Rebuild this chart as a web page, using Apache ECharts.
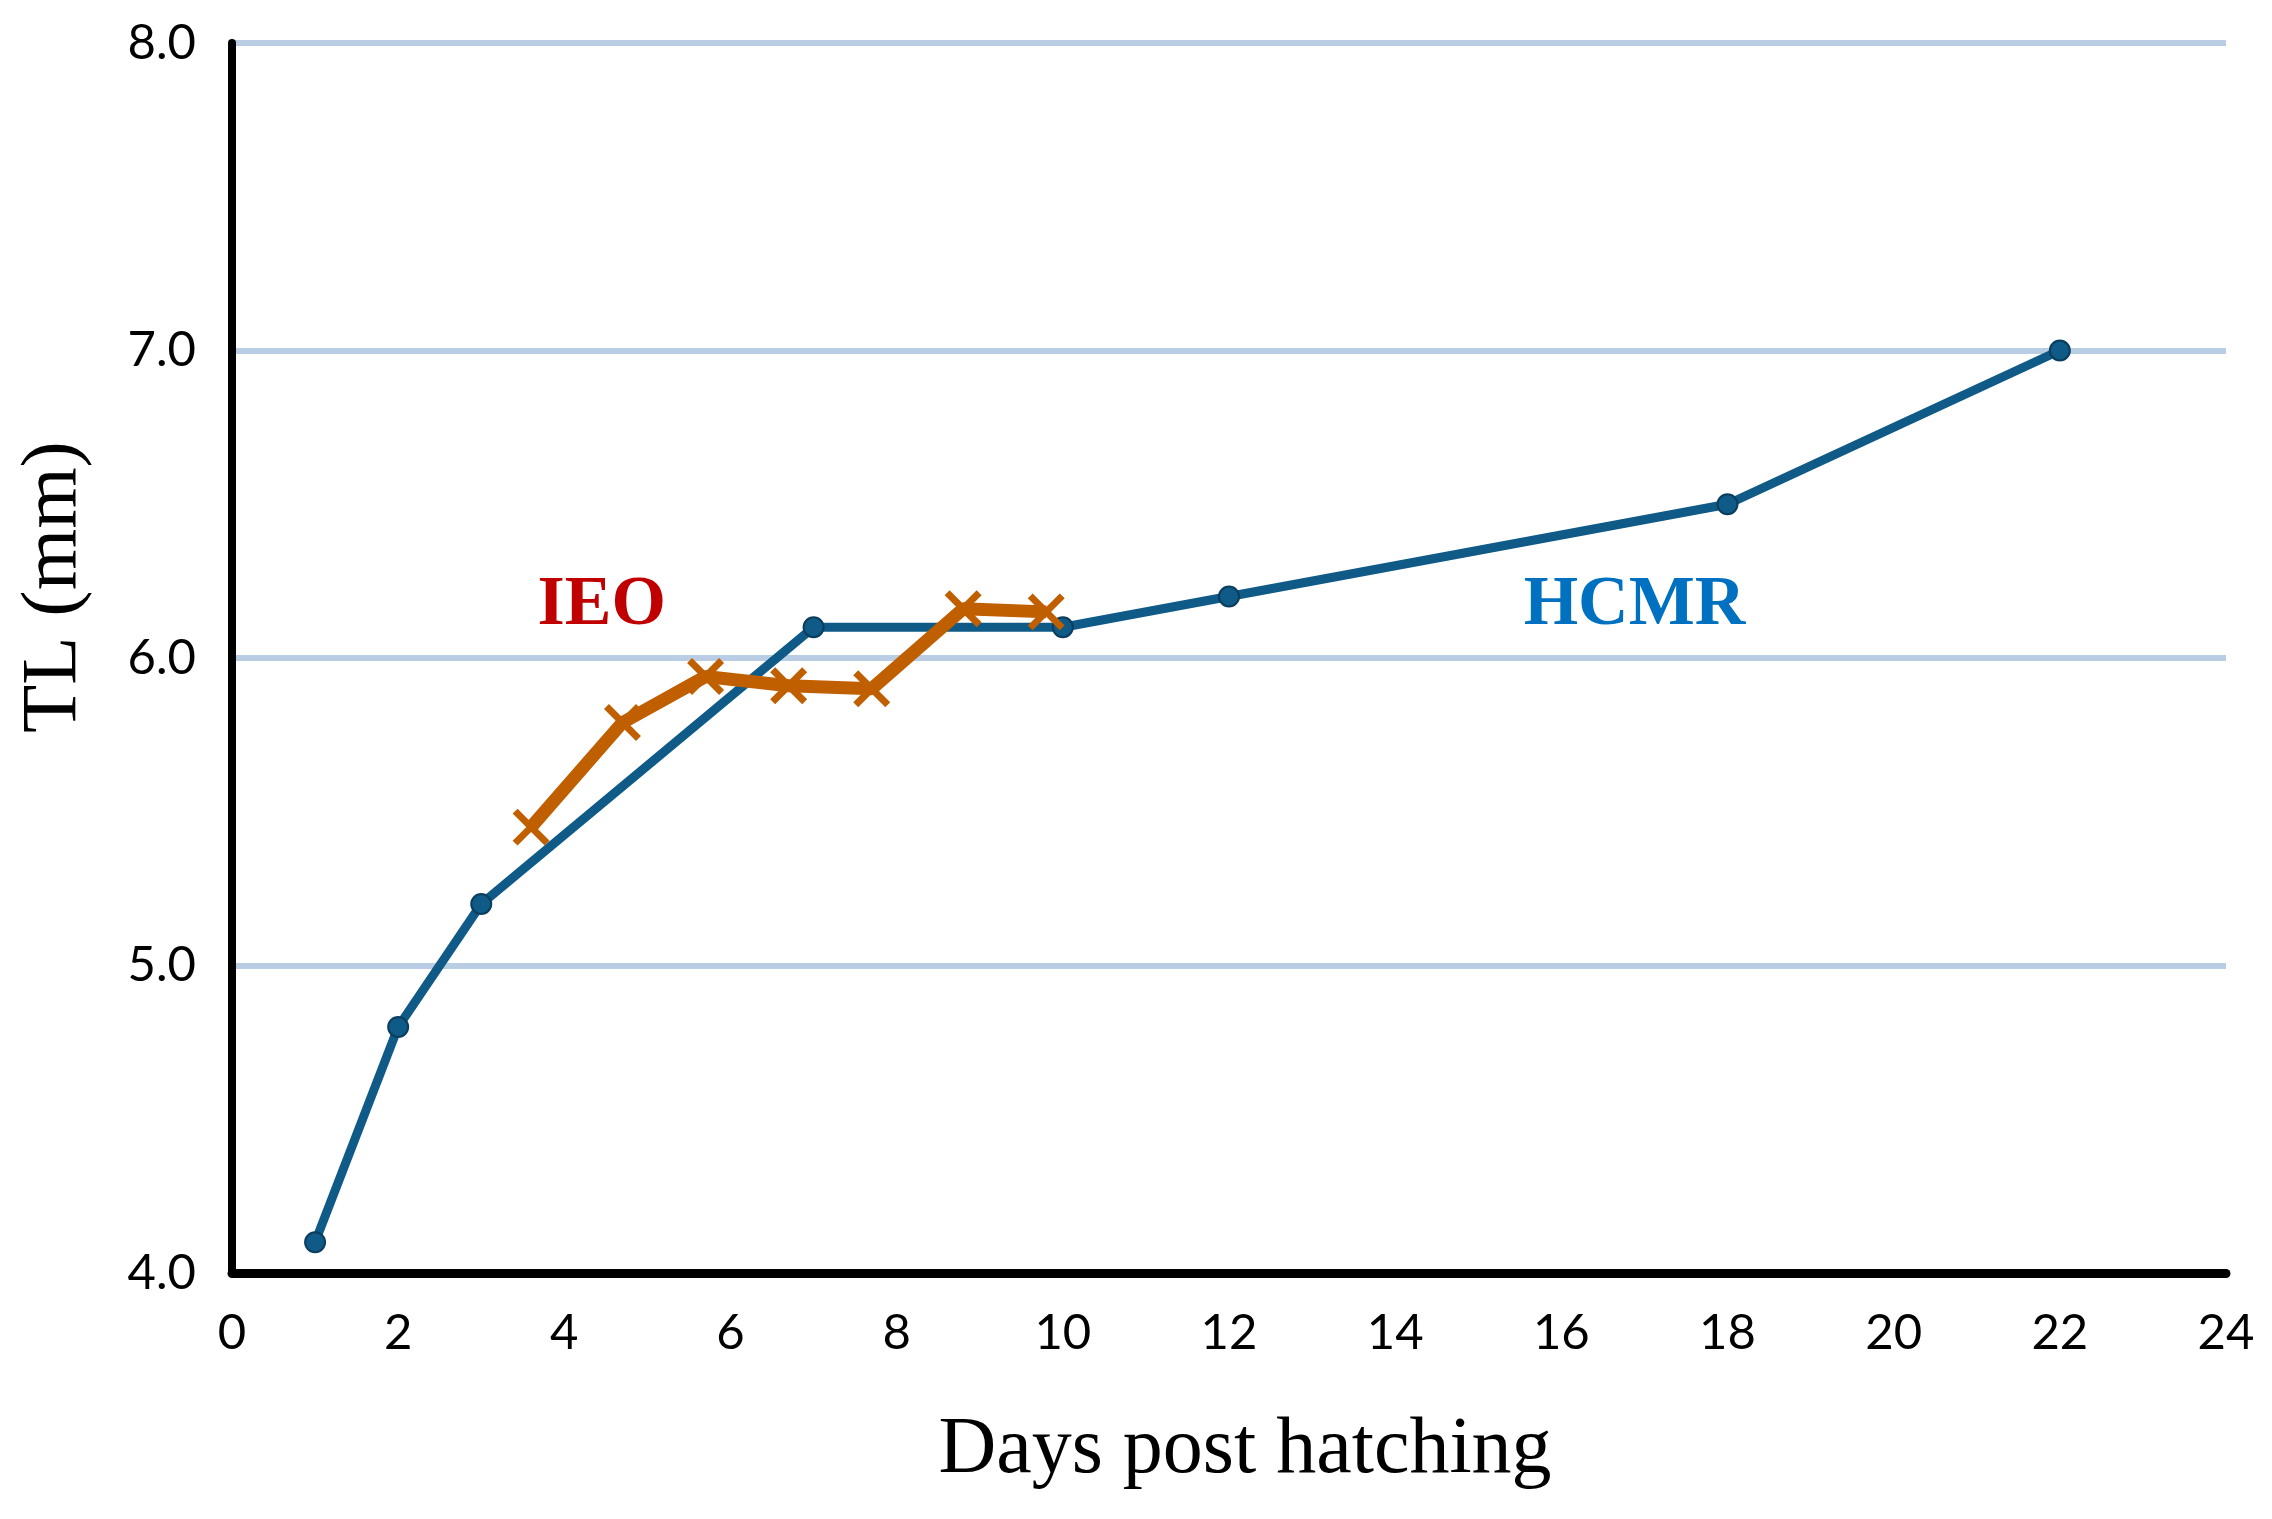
<!DOCTYPE html>
<html lang="en">
<head>
  <meta charset="UTF-8" />
  <script src="https://cdn.jsdelivr.net/npm/echarts@6/dist/echarts.min.js"></script>
  <title>TL vs days post hatching</title>
  <style>
    body { margin: 0; background: #fff; }
  </style>
</head>
<body>
  <div id="main" style="width: 2272px; height: 1519px"></div>
  <script type="text/javascript">
    // HCMR: day, total length (mm)
    var hcmrDays = [1, 2, 3, 7, 10, 12, 18, 22];
    var hcmrTL = [4.1, 4.8, 5.2, 6.1, 6.1, 6.2, 6.5, 7.0];
    // IEO: day, total length (mm)
    var ieoDays = [3.6, 4.7, 5.7, 6.7, 7.7, 8.8, 9.8];
    var ieoTL = [5.45, 5.79, 5.94, 5.91, 5.9, 6.16, 6.15];
    // text labels placed on the plot
    var annotations = [
      { name: "IEO", value: [4.45, 6.17], color: "#c00000" },
      { name: "HCMR", value: [16.88, 6.17], color: "#0070c0" }
    ];

    function pairs(xs, ys) {
      return xs.map(function (x, i) { return [x, ys[i]]; });
    }

    var myChart = echarts.init(document.getElementById("main"));

    myChart.setOption({
      animation: false,
      backgroundColor: "#ffffff",
      grid: { left: 232, right: 46, top: 43, bottom: 246 },
      xAxis: {
        type: "value",
        min: 0,
        max: 24,
        interval: 2,
        name: "Days post hatching",
        nameLocation: "middle",
        nameGap: 138,
        nameTextStyle: {
          fontFamily: "Liberation Serif",
          fontSize: 80,
          color: "#000",
          padding: [0, 0, 0, 32]
        },
        axisLine: { lineStyle: { color: "#000", width: 9 } },
        axisTick: { show: false },
        splitLine: { show: false },
        axisLabel: { margin: 36, fontFamily: "Lato", fontSize: 49, color: "#000" }
      },
      yAxis: {
        type: "value",
        min: 4,
        max: 8,
        interval: 1,
        name: "TL (mm)",
        nameLocation: "middle",
        nameGap: 138,
        nameTextStyle: {
          fontFamily: "Liberation Serif",
          fontSize: 79,
          color: "#000",
          padding: [0, 0, 0, 142]
        },
        axisLine: { show: true, lineStyle: { color: "#000", width: 8 } },
        axisTick: { show: false },
        splitLine: { lineStyle: { color: "#b9cde5", width: 6 } },
        axisLabel: {
          margin: 36,
          fontFamily: "Lato",
          fontSize: 49,
          color: "#000",
          formatter: function (v) { return v.toFixed(1); }
        }
      },
      series: [
        {
          name: "HCMR",
          type: "line",
          data: pairs(hcmrDays, hcmrTL),
          symbol: "circle",
          symbolSize: 20,
          lineStyle: { color: "#0f5a86", width: 9 },
          itemStyle: { color: "#0f5a86", borderColor: "#0a3d5e", borderWidth: 2 },
          z: 3
        },
        {
          name: "IEO",
          type: "line",
          data: pairs(ieoDays, ieoTL),
          symbol: "path://M0,0L10,10M0,10L10,0",
          symbolSize: 32,
          lineStyle: { color: "#c05f00", width: 13 },
          itemStyle: { color: "#c05f00", borderColor: "#c05f00", borderWidth: 7 },
          z: 4
        },
        {
          name: "labels",
          type: "scatter",
          symbolSize: 0,
          silent: true,
          itemStyle: { opacity: 1 },
          data: annotations.map(function (a) {
            return {
              name: a.name,
              value: a.value,
              label: {
                show: true,
                position: "inside",
                formatter: "{b}",
                fontFamily: "Liberation Serif",
                fontWeight: "bold",
                fontSize: 70,
                opacity: 1,
                color: a.color
              }
            };
          }),
          z: 5
        }
      ]
    });
  </script>
</body>
</html>
